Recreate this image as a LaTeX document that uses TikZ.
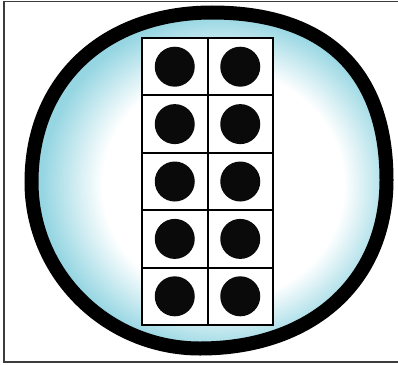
\documentclass[tikz,border=0pt]{standalone}
\usetikzlibrary{positioning}

\definecolor{bubcyan}{RGB}{150,214,226}
\definecolor{framegray}{RGB}{60,60,60}
\pgfdeclareradialshading{bubble}{\pgfpoint{3bp}{-1bp}}{%
    color(0bp)=(white); color(17bp)=(white);
    color(25bp)=(bubcyan); color(50bp)=(bubcyan)}

\begin{document}
\begin{tikzpicture}[
    x=1pt, y=-1pt,
    cell/.style={
        rectangle, draw, line width=2pt, fill=white,
        minimum width=65.5pt, minimum height=57.4pt, inner sep=0pt
    },
    dot/.style={circle, fill=black!96, minimum size=40pt, inner sep=0pt},
    rim/.style={line width=14pt, shading=bubble},
]
\useasboundingbox (0,0) rectangle (398,364);

% outer frame
\draw[framegray, line width=1.5pt] (4,1.5) rectangle (404,362);

% bubble
\coordinate (top) at (212,12.5);
\coordinate (rt) at (386.5,180);
\coordinate (bot) at (200,348.5);
\coordinate (lf) at (31.5,182);
\shadedraw[rim] (top)
    .. controls (325,12.5) and (386.5,71) .. (rt)
    .. controls (386.5,281) and (312,348.5) .. (bot)
    .. controls (107,348.5) and (31.5,274) .. (lf)
    .. controls (31.5,81) and (104,12.5) .. (top) -- cycle;

% ten frame: 5 rows, 2 columns
\foreach \r in {1,...,5} {
    \foreach \c in {1,2} {
        \node[cell] (cell-\r-\c) at ({109.25+65.5*\c}, {9.3+57.4*\r}) {};
        \node[dot] (dot-\r-\c) at (cell-\r-\c.center) {};
    }
}

\end{tikzpicture}
\end{document}
